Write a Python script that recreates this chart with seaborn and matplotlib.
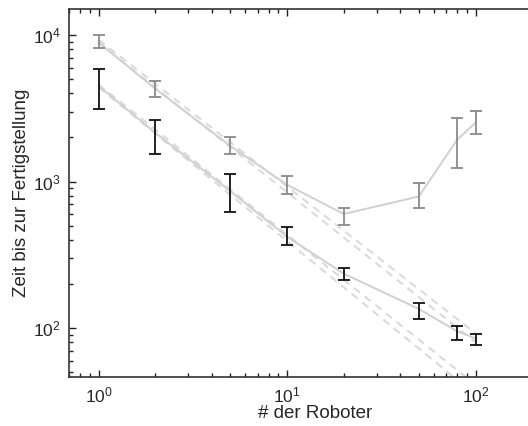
import numpy as np
import pandas as pd
import matplotlib
matplotlib.use("Agg")
import matplotlib.pyplot as plt
import matplotlib.ticker as mticker
import seaborn as sns

# ---- data ----
robots = [1, 2, 5, 10, 20, 50, 80, 100]

black_mean = [4500, 2150, 860, 420, 235, 135, 95, 85]
black_low = [3140, 1530, 615, 367, 212, 115, 83, 76]
black_high = [5880, 2640, 1117, 486, 256, 148, 103, 91]

gray_mean = [8900, 4300, 1750, 950, 600, 790, 1930, 2520]
gray_low = [8160, 3790, 1530, 828, 502, 655, 1245, 2120]
gray_high = [10000, 4860, 2020, 1082, 655, 984, 2720, 3040]

fit_x = [1, 100]
black_fit_a = [4600, 41]
black_fit_b = [4400, 35]
gray_fit_a = [9300, 92]
gray_fit_b = [8900, 80]

xlabel = "# der Roboter"
ylabel = "Zeit bis zur Fertigstellung"

# ---- figure ----
sns.set_style("ticks")
plt.rcParams['font.family'] = ['Liberation Sans', 'DejaVu Sans']
plt.rcParams['mathtext.fontset'] = 'custom'
plt.rcParams['mathtext.rm'] = 'Liberation Sans'

W, H = 528, 426
fig = plt.figure(figsize=(W / 100, H / 100), dpi=100)
left_px, right_px, top_px, bottom_px = 69, 561, 9, 377
ax = fig.add_axes([left_px / W, 1 - bottom_px / H,
                   (right_px - left_px) / W, (bottom_px - top_px) / H])

# fitted dashed lines
fits = pd.DataFrame({
    "x": fit_x * 4,
    "y": black_fit_a + black_fit_b + gray_fit_a + gray_fit_b,
    "fit": ["ba"] * 2 + ["bb"] * 2 + ["ga"] * 2 + ["gb"] * 2,
})
sns.lineplot(data=fits, x="x", y="y", units="fit", estimator=None,
             color="#d9d9d9", lw=1.4, ax=ax, linestyle=(0, (4, 3)))

# mean curves
means = pd.DataFrame({
    "x": robots * 2,
    "y": black_mean + gray_mean,
    "series": ["black"] * len(robots) + ["gray"] * len(robots),
})
sns.lineplot(data=means, x="x", y="y", units="series", estimator=None,
             color="#d0d0d0", lw=1.4, ax=ax)

# error bars
for mean, lo, hi, col in [(black_mean, black_low, black_high, "#111111"),
                          (gray_mean, gray_low, gray_high, "#8a8a8a")]:
    m = np.array(mean, float)
    yerr = np.vstack([m - np.array(lo, float), np.array(hi, float) - m])
    ax.errorbar(robots, m, yerr=yerr, fmt="none", ecolor=col,
                elinewidth=1.3, capsize=4, capthick=1.3, zorder=3)

ax.set_xscale("log")
ax.set_yscale("log")
x0 = 10 ** ((left_px - 98.5) / 188.5)
x1 = 10 ** ((right_px - 98.5) / 188.5)
ax.set_xlim(x0, x1)
y0 = 10 ** (4 - (bottom_px - 35) / 146.5)
y1 = 10 ** (4 + (35 - top_px) / 146.5)
ax.set_ylim(y0, y1)

ax.xaxis.set_minor_formatter(mticker.NullFormatter())
ax.yaxis.set_minor_formatter(mticker.NullFormatter())

ax.tick_params(which="both", direction="in", top=True, right=True,
               color="#222222", labelsize=12.5, pad=6)
ax.tick_params(which="major", length=5, width=1)
ax.tick_params(which="minor", length=3, width=1)

for s in ax.spines.values():
    s.set_color("#333333")
    s.set_linewidth(1.2)

ax.set_xlabel(xlabel, fontsize=13.5, labelpad=0)
ax.set_ylabel(ylabel, fontsize=13.5, labelpad=2)
ax.grid(False)

fig.savefig("out.png", dpi=100)
